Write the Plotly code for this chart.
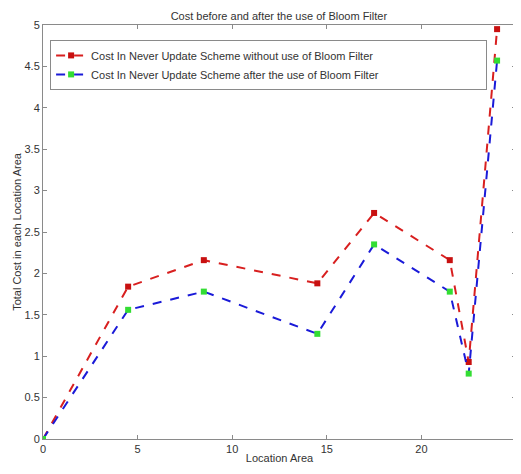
import plotly.graph_objects as go

location = [0, 4.5, 8.5, 14.5, 17.5, 21.5, 22.5, 24]
cost_without = [0, 1.84, 2.16, 1.88, 2.73, 2.16, 0.93, 4.95]
cost_with = [0, 1.56, 1.78, 1.27, 2.35, 1.78, 0.79, 4.57]

x_ticks = [0, 5, 10, 15, 20, 25]
y_ticks = [0, 0.5, 1, 1.5, 2, 2.5, 3, 3.5, 4, 4.5, 5]
y_tick_text = ["0", "0.5", "1", "1.5", "2", "2.5", "3", "3.5", "4", "4.5", "5"]

fig = go.Figure()
fig.add_trace(go.Scatter(
    x=location, y=cost_without, mode="lines+markers",
    name="Cost In Never Update Scheme without use of Bloom Filter",
    line=dict(color="#d81f1f", width=2, dash="dash"),
    marker=dict(symbol="square", size=6, color="#c81010"),
))
fig.add_trace(go.Scatter(
    x=location, y=cost_with, mode="lines+markers",
    name="Cost In Never Update Scheme after the use of Bloom Filter",
    line=dict(color="#1a1ad8", width=2, dash="dash"),
    marker=dict(symbol="square", size=6, color="#33dd33"),
))

axis_common = dict(
    showgrid=False, zeroline=False, showline=True, linecolor="#8a8a8a",
    linewidth=1, mirror="ticks", ticks="inside", ticklen=4,
    tickcolor="#8a8a8a", tickfont=dict(size=11, color="#333333"),
    automargin=False,
)
fig.update_xaxes(range=[0, 25], tickvals=x_ticks, title=dict(
    text="Location Area", font=dict(size=11, color="#333333"), standoff=0),
    **axis_common)
fig.update_yaxes(range=[0, 5], tickvals=y_ticks, ticktext=y_tick_text,
    title=dict(text="Total Cost in each Location Area",
               font=dict(size=11, color="#333333"), standoff=0),
    **axis_common)

# page body has an 8px margin, so the figure is sized/offset to compensate
fig.update_layout(
    width=513, height=466,
    margin=dict(l=35, r=5, t=17, b=35),
    paper_bgcolor="white", plot_bgcolor="white",
    font=dict(family="Liberation Sans, Arial, sans-serif", size=11, color="#333333"),
    title=dict(text="Cost before and after the use of Bloom Filter",
               x=0.528, xanchor="center", y=0.991, yanchor="top",
               pad=dict(t=0, b=0),
               font=dict(size=11, color="#333333")),
    legend=dict(x=0.015, y=0.964, xanchor="left", yanchor="top",
                orientation="h", entrywidth=390, entrywidthmode="pixels",
                bgcolor="white", bordercolor="#8a8a8a", borderwidth=1,
                font=dict(size=11, color="#333333"), tracegroupgap=0),
    showlegend=True,
)

fig.write_html("out.html")
